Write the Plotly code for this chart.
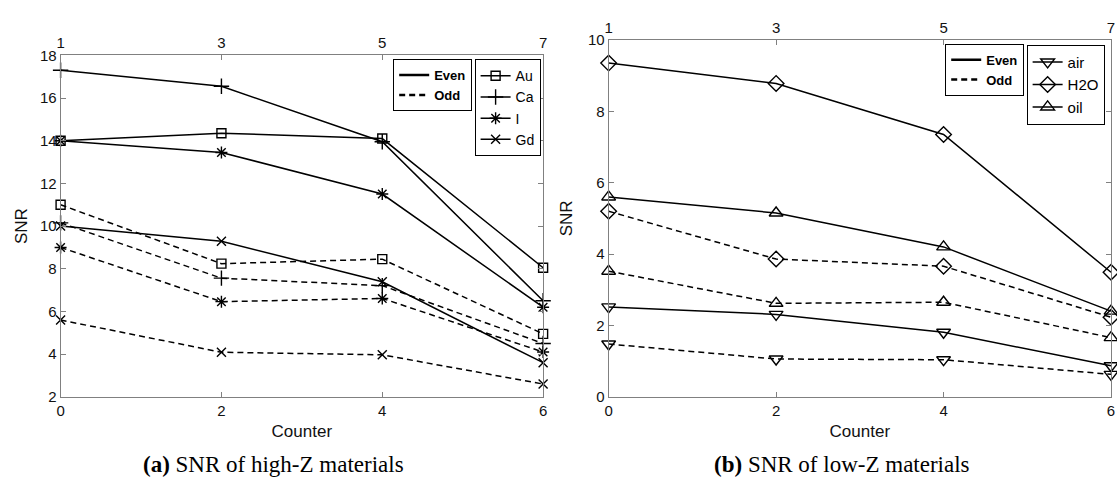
import plotly.graph_objects as go

# ---------------- data ----------------
counter = [0, 2, 4, 6]
top_ticks = [1, 3, 5, 7]

# (a) high-Z materials
au_even = [14.0, 14.35, 14.1, 8.05]
au_odd = [11.0, 8.24, 8.45, 4.95]
ca_even = [17.3, 16.55, 13.95, 6.5]
ca_odd = [10.15, 7.56, 7.21, 4.5]
i_even = [14.0, 13.45, 11.5, 6.2]
i_odd = [9.0, 6.46, 6.61, 4.1]
gd_even = [10.0, 9.29, 7.39, 3.6]
gd_odd = [5.6, 4.09, 3.97, 2.6]

# (b) low-Z materials
air_even = [2.52, 2.31, 1.81, 0.87]
air_odd = [1.48, 1.06, 1.04, 0.63]
h2o_even = [9.35, 8.78, 7.35, 3.49]
h2o_odd = [5.2, 3.86, 3.66, 2.23]
oil_even = [5.6, 5.15, 4.2, 2.4]
oil_odd = [3.52, 2.62, 2.65, 1.66]

high_z = [
    ("Au", "square-open", 9, au_even, au_odd),
    ("Ca", "cross-thin-open", 11, ca_even, ca_odd),
    ("I", "asterisk-open", 10, i_even, i_odd),
    ("Gd", "x-thin-open", 9, gd_even, gd_odd),
]
low_z = [
    ("air", "triangle-down-open", 12, air_even, air_odd),
    ("H2O", "diamond-open", 12, h2o_even, h2o_odd),
    ("oil", "triangle-up-open", 12, oil_even, oil_odd),
]

W, H = 1117, 483
BLACK = "#000000"
TXT = "#111111"
FRAME = "#808080"
SANS = "Liberation Sans, Arial, sans-serif"
SERIF = "Liberation Serif, Times New Roman, serif"
DASH = "6px,4px"


def px_x(p):
    return p / W


def px_y(p):
    return 1 - p / H


fig = go.Figure()


def add_panel(series, xa, ya, leg_ls, leg_mk):
    for name, sym, size, ev, od in series:
        for vals, dash in ((ev, "solid"), (od, DASH)):
            fig.add_trace(go.Scatter(
                x=counter, y=vals, xaxis=xa, yaxis=ya, mode="lines+markers",
                line=dict(color=BLACK, width=1.5, dash=dash),
                marker=dict(symbol=sym, size=size, color=BLACK,
                            line=dict(color=BLACK, width=1.4)),
                cliponaxis=False, showlegend=False, hoverinfo="skip"))
    # line-style legend
    for nm, dash in (("Even", "solid"), ("Odd", DASH)):
        fig.add_trace(go.Scatter(
            x=[None], y=[None], xaxis=xa, yaxis=ya, mode="lines", name=nm,
            line=dict(color=BLACK, width=2.5, dash=dash), legend=leg_ls))
    # marker legend
    for name, sym, size, ev, od in series:
        fig.add_trace(go.Scatter(
            x=[None], y=[None], xaxis=xa, yaxis=ya, mode="lines+markers",
            name=name, line=dict(color=BLACK, width=1.5),
            marker=dict(symbol=sym, size=size, color=BLACK,
                        line=dict(color=BLACK, width=1.4)),
            legend=leg_mk))


add_panel(high_z, "x", "y", "legend", "legend2")
add_panel(low_z, "x2", "y2", "legend3", "legend4")

# dummy traces for top axes
fig.add_trace(go.Scatter(x=[None], y=[None], xaxis="x3", yaxis="y",
                         showlegend=False, hoverinfo="skip"))
fig.add_trace(go.Scatter(x=[None], y=[None], xaxis="x4", yaxis="y2",
                         showlegend=False, hoverinfo="skip"))

tickfont = dict(family=SANS, size=15, color=TXT)
titlefont = dict(family=SANS, size=17, color=TXT)
common_x = dict(showgrid=False, zeroline=False, showline=True, linecolor=FRAME,
                linewidth=1, ticks="inside", ticklen=5, tickcolor=FRAME,
                tickfont=tickfont, tickvals=counter, ticktext=[str(v) for v in counter])
common_y = dict(showgrid=False, zeroline=False, showline=True, linecolor=FRAME,
                linewidth=1, ticks="inside", ticklen=5, tickcolor=FRAME,
                mirror="ticks", tickfont=tickfont, dtick=2)
common_top = dict(side="top", range=[1, 7], tickvals=top_ticks,
                  ticktext=[str(v) for v in top_ticks], showgrid=False,
                  zeroline=False, showline=True, linecolor=FRAME, ticks="inside",
                  ticklen=5, tickcolor=FRAME, tickfont=tickfont)

L_dom = [px_x(57), px_x(543)]
R_dom = [px_x(609), px_x(1115)]
L_y = [px_y(402), px_y(48)]
R_y = [px_y(402), px_y(32)]


def legend_box(x, y, size, bold=False):
    f = dict(family=SANS, size=size, color=BLACK)
    if bold:
        f["weight"] = "bold"
    return dict(x=px_x(x), y=px_y(y), xanchor="left", yanchor="top",
                bordercolor=BLACK, borderwidth=1, bgcolor="white", font=f,
                itemwidth=30, tracegroupgap=0)


fig.update_layout(
    width=W, height=H, margin=dict(l=0, r=0, t=0, b=0),
    paper_bgcolor="white", plot_bgcolor="white",
    xaxis=dict(domain=L_dom, anchor="y", range=[0, 6],
               title=dict(text="Counter", font=titlefont, standoff=7), **common_x),
    yaxis=dict(domain=L_y, anchor="x", range=[2, 18],
               title=dict(text="SNR", font=titlefont, standoff=7), **common_y),
    xaxis2=dict(domain=R_dom, anchor="y2", range=[0, 6],
                title=dict(text="Counter", font=titlefont, standoff=7), **common_x),
    yaxis2=dict(domain=R_y, anchor="x2", range=[0, 10],
                title=dict(text="SNR", font=titlefont, standoff=10), **common_y),
    xaxis3=dict(overlaying="x", anchor="y", **common_top),
    xaxis4=dict(overlaying="x2", anchor="y2", **common_top),
    legend=legend_box(392, 52, 13, bold=True),
    legend2=legend_box(474, 52, 14),
    legend3=legend_box(948, 36, 13, bold=True),
    legend4=legend_box(1030, 37, 15),
    annotations=[
        dict(text="<b>(a)</b> SNR of high-Z materials", x=px_x(271), y=px_y(472),
             xref="paper", yref="paper", showarrow=False, xanchor="center",
             yanchor="middle", font=dict(family=SERIF, size=23, color=BLACK)),
        dict(text="<b>(b)</b> SNR of low-Z materials", x=px_x(844), y=px_y(472),
             xref="paper", yref="paper", showarrow=False, xanchor="center",
             yanchor="middle", font=dict(family=SERIF, size=23, color=BLACK)),
    ],
    showlegend=True,
)

fig.write_html(
    "out.html",
    config={"displayModeBar": False},
    post_script="document.body.style.margin='0px';document.body.style.overflow='hidden';",
)
